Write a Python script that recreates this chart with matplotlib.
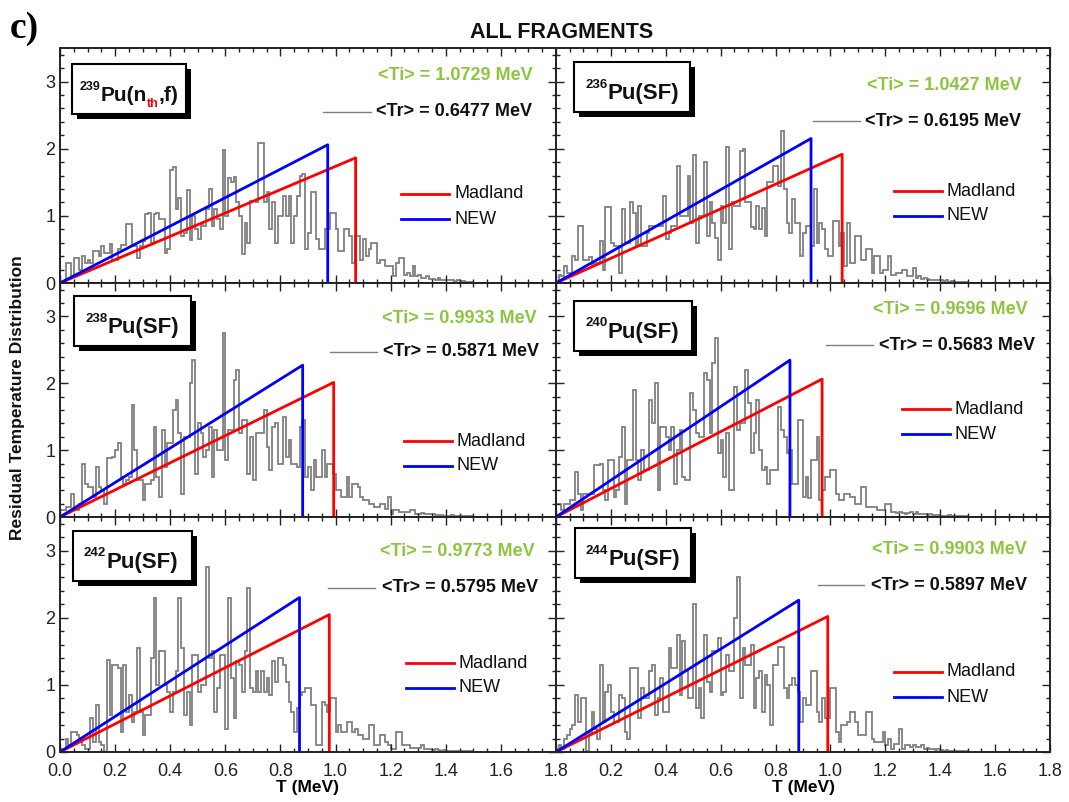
import numpy as np
import matplotlib.pyplot as plt
from matplotlib.patches import Rectangle
from matplotlib.lines import Line2D
from matplotlib.text import Annotation
from matplotlib.ticker import MultipleLocator

plt.rcParams['font.family'] = ['Liberation Sans', 'DejaVu Sans']

W, H = 1069, 802
BIN = 0.01  # histogram bin width in MeV

# residual temperature histograms, 0.01 MeV bins starting at T = 0
pu239_nth = [0, 0, .30, .30, .10, .37, .37, .20, .40, .30,
             .35, .30, .48, .48, .40, .55, .45, .45, .58, .35,
             .35, .50, .57, .57, .88, .88, .55, .55, .37, .55,
             .62, 1.03, 1.05, .60, 1.03, 1.05, .95, .95, .45, .50,
             1.69, 1.73, 1.10, 1.26, .70, .75, 1.38, .64, 1.00, .80,
             .65, .90, .85, 1.10, 1.40, .85, 1.10, .95, .80, 1.98,
             1.00, 1.56, 1.50, 1.58, 1.20, 1.00, .43, .90, .60, 1.22,
             1.22, 1.20, 2.09, 2.09, 1.20, 1.35, .80, 1.20, .60, 1.00,
             1.00, 1.30, 1.00, 1.30, .60, 1.00, 1.30, 1.60, 1.62, .50,
             .75, 1.35, 1.35, .65, .50, .50, .80, .80, 1.05, 1.05,
             .80, .48, .48, .80, .80, .70, .30, .70, .70, .35,
             .65, .40, .50, .60, .60, .30, .35, .35, .25, .25,
             .25, .10, .30, .37, .37, .12, .15, .10, .25, .10,
             .12, .08, .08, .10, .06, .06, .05, .08, .05, .04,
             .05, .04, .04, .03, .05, .03, .03, .02, .02, .02]

pu236_sf = [0, .12, .10, .25, .15, .15, .40, .35, .85, .85,
            .35, .35, .38, .25, .30, .30, .63, .20, 1.13, 1.13,
            .60, .55, .55, .15, 1.10, .60, .60, 1.20, 1.05, .55,
            1.15, .55, .55, .75, .85, .85, .85, .85, .85, 1.30,
            .65, .75, .85, .85, 1.75, 1.00, 1.00, 1.00, 1.60, .90,
            1.90, .60, 1.00, 1.00, 1.80, .70, 1.20, .90, .67, .35,
            1.15, .90, 2.03, .50, 1.20, 1.15, 1.15, 1.96, 2.00, 1.20,
            1.20, .84, .80, 1.15, .80, 1.12, .70, 1.50, 1.50, 1.75,
            1.75, 1.45, 2.26, 1.40, .90, .75, 1.25, .90, .90, .40,
            .75, .85, .85, .55, 1.40, .60, .90, .80, .50, .40,
            .40, .93, .93, .55, .75, .25, .90, .30, .30, .70,
            .70, .35, .35, .50, .50, .15, .40, .40, .15, .20,
            .20, .40, .12, .12, .15, .15, .20, .20, .10, .10,
            .22, .08, .10, .06, .08, .06, .05, .05, .04, .05,
            .04, .03, .04, .02, .03, .02, .02, .02, .01, .01]

pu238_sf = [.10, .10, .15, .15, .35, .15, .10, .20, .80, .50,
            .45, .45, .30, .75, .45, .40, .20, .88, .88, .90,
            1.00, 1.10, .60, .50, .55, .60, 1.67, 1.00, .55, .55,
            .25, .50, .50, .55, 1.35, .60, .30, 1.30, .75, 1.10,
            1.10, 1.60, 1.75, 1.25, .35, 1.20, 1.20, 2.00, 2.35, .65,
            1.40, 1.25, .90, 1.00, 1.35, .60, 1.30, 1.00, 1.00, 2.75,
            .85, 1.30, 1.30, 2.05, 2.20, 1.25, 1.45, 1.45, .65, 1.20,
            .55, 1.25, 1.25, 1.25, 1.60, 1.05, .70, 1.35, 1.40, .80,
            .80, 1.50, .90, 1.15, .80, .80, .75, 1.35, 1.45, .60,
            .75, .40, .85, .60, .60, 1.00, .60, .80, .80, .65,
            .40, .40, .30, .30, .60, .30, .50, .50, .45, .30,
            .25, .25, .20, .20, .15, .15, .20, .20, .12, .30,
            .05, .10, .10, .08, .08, .08, .08, .10, .10, .05,
            .05, .06, .04, .05, .04, .04, .03, .03, .03, .02,
            .02, .02, .03, .02, .02, .01, .02, .01, .01, .01]

pu240_sf = [.20, .20, .10, .20, .20, .25, .25, .68, .35, .10,
            .35, .35, .35, .35, .78, .78, .80, .40, .25, .85,
            .85, .30, .40, .90, 1.35, .20, .85, .85, 1.90, .85,
            .55, 1.00, .70, .70, 1.75, 1.40, 2.00, .40, 1.35, 1.35,
            1.20, 1.00, 1.35, .50, 1.00, 1.30, .60, .55, .55, 1.85,
            1.60, 1.25, 1.20, 1.20, 2.15, 2.05, 1.25, 2.30, 2.67, .95,
            1.15, .60, 1.25, .40, .40, 1.95, 1.30, 1.40, 1.40, 2.20,
            1.70, .95, 1.25, 1.75, 1.00, .70, .75, .50, .70, .70,
            .70, 1.65, 1.30, 1.20, .95, 1.00, .50, .50, 1.45, 1.45,
            .30, .60, .28, .85, .85, 1.20, .25, .40, .60, .60,
            .70, .70, .35, .25, .25, .35, .35, .30, .30, .20,
            .20, .45, .45, .15, .15, .15, .15, .10, .10, .10,
            .20, .20, .08, .08, .06, .08, .06, .05, .06, .08,
            .05, .08, .05, .04, .05, .03, .04, .03, .02, .03,
            .02, .02, .02, .03, .01, .02, .01, .01, .01, .01]

pu242_sf = [.05, .05, .20, .10, .30, .30, .25, .20, .10, .05,
            .05, .50, .15, .70, .15, .10, .00, 1.37, .55, 1.30,
            1.30, 1.25, .30, 1.30, .60, .85, .45, .60, 1.55, .60,
            .25, .55, .55, 1.40, 2.30, 1.00, 1.50, 1.50, 1.00, .90,
            .60, .90, 1.20, 2.30, 1.55, .55, .90, .40, 1.45, 1.45,
            .90, 1.00, 1.00, 2.75, 1.40, 1.50, .60, .95, 1.45, 1.45,
            .35, 2.30, 1.10, .50, 1.35, 1.30, .90, 1.50, 2.45, .95,
            .90, 1.20, .90, 1.20, .90, 1.10, .85, 1.35, 1.05, 1.40,
            1.40, 1.30, 1.05, .75, .60, .30, .65, .85, .90, .95,
            .95, .70, .70, .10, .10, .75, .70, .60, .80, .80,
            .30, .40, .30, .30, .45, .45, .30, .35, .25, .25,
            .20, .20, .40, .40, .10, .10, .25, .25, .15, .10,
            .05, .05, .30, .30, .10, .10, .10, .06, .06, .06,
            .06, .10, .05, .04, .05, .03, .04, .03, .02, .03,
            .02, .02, .02, .01, .02, .01, .01, .01, .01, .01]

pu244_sf = [.05, .10, .05, .20, .25, .35, .40, .85, .45, .80,
            .80, .02, .30, .60, .35, .20, 1.30, .45, .90, 1.00,
            .60, .45, .45, .85, .80, .30, .20, 1.25, 1.25, 1.25,
            .50, .95, .80, .80, 1.20, 1.30, .55, .80, 1.10, .60,
            .60, 1.55, 1.25, 1.25, 1.75, .85, 1.65, 1.20, .80, .80,
            2.20, .65, .95, .50, 1.75, 1.05, .90, 1.50, 1.50, 1.70,
            .85, .90, 1.45, 1.20, 1.20, 2.00, 2.60, .80, 1.55, 1.30,
            1.30, 1.60, .65, 1.10, 1.20, .60, 1.15, 1.00, .40, 1.30,
            1.30, 1.57, 1.57, .95, .80, 1.00, 1.10, 1.00, .90, .45,
            .80, .70, .70, 1.20, 1.20, .60, .45, .80, .50, .50,
            .95, .95, .30, .15, .40, .40, .45, .60, .60, .45,
            .25, .25, .25, .60, .60, .20, .15, .15, .15, .30,
            .10, .20, .05, .12, .12, .35, .05, .10, .10, .08,
            .10, .08, .08, .10, .05, .06, .04, .05, .03, .04,
            .03, .02, .03, .02, .01, .02, .01, .01, .01, .01]

masses = ['239', '236', '238', '240', '242', '244']
reactions = ['nth', 'SF', 'SF', 'SF', 'SF', 'SF']
ti_mean = [1.0729, 1.0427, 0.9933, 0.9696, 0.9773, 0.9903]   # <Ti>, MeV
tr_mean = [0.6477, 0.6195, 0.5871, 0.5683, 0.5795, 0.5897]   # <Tr>, MeV
hists = [pu239_nth, pu236_sf, pu238_sf, pu240_sf, pu242_sf, pu244_sf]

GREEN = '#8cc63f'
GRAY = '#808080'

fig = plt.figure(figsize=(W / 100, H / 100), dpi=100)


def P(x, y):
    # pixel position from the top-left corner -> figure fraction
    return x / W, 1 - y / H


def piece(text, after, base, size, color='#111111'):
    # text that continues right after another text, on a given baseline
    ann = Annotation(text, xy=(1, H - base), xycoords=(after, 'figure pixels'),
                     fontsize=size, fontweight='bold', color=color,
                     va='baseline', ha='left', zorder=7, annotation_clip=False)
    fig.add_artist(ann)
    return ann


# axes grid in pixels
cols = [(60, 496), (556, 494)]
rows = [(48, 235), (283, 234), (517, 235)]

# per-panel layout: label box (left, top, width), <Ti>/<Tr> text, key line, legend
boxes = [(72, 64, 114), (574, 62, 116), (74, 296, 117),
         (574, 301, 118), (73, 531, 119), (575, 528, 116)]
ti_pos = [(378, 76), (867, 85), (382, 318), (873, 309), (380, 552), (872, 550)]
tr_pos = [(376, 112), (865, 121), (383, 352), (879, 345), (382, 588), (871, 585)]
key_line = [(323, 371), (813, 860), (330, 377), (826, 873), (328, 375), (818, 864)]
legend = [(401, 194, 219), (894, 191, 216), (404, 441, 466),
          (902, 409, 434), (406, 663, 688), (894, 672, 697)]

for k in range(6):
    r, c = divmod(k, 2)
    x0, w = cols[c]
    top, h = rows[r]
    ax = fig.add_axes([x0 / W, 1 - (top + h) / H, w / W, h / H])

    vals = np.array(hists[k])
    edges = np.arange(len(vals) + 1) * BIN
    ax.stairs(vals, edges, color=GRAY, lw=1.3, baseline=0)

    # triangular spectra: P(T) = 2T/Tm^2 on [0, Tm]
    tm_mad = ti_mean[k]
    tm_new = 1.5 * tr_mean[k]
    ax.plot([0, tm_mad, tm_mad], [0, 2 / tm_mad, 0], color='#ff0000', lw=2)
    ax.plot([0, tm_new, tm_new], [0, 2 / tm_new, 0], color='#0000ff', lw=2)

    ax.set_xlim(0, 1.8)
    ax.set_ylim(0, 3.5)
    ax.xaxis.set_major_locator(MultipleLocator(0.2))
    ax.xaxis.set_minor_locator(MultipleLocator(0.05))
    ax.yaxis.set_major_locator(MultipleLocator(1))
    ax.yaxis.set_minor_locator(MultipleLocator(0.2))
    ax.tick_params(which='both', direction='in', top=True, right=True,
                   labelsize=13, width=1.0, colors='#222222')
    ax.tick_params(which='major', length=6)
    ax.tick_params(which='minor', length=3)
    ax.tick_params(axis='x', pad=8)
    for s in ax.spines.values():
        s.set_linewidth(1.4)
        s.set_color('#222222')

    if r < 2:
        ax.set_xticklabels([])
    else:
        ticks = np.round(np.arange(0, 1.81, 0.2), 1)
        ax.set_xticks(ticks)
        labels = ['%.1f' % t for t in ticks]
        if c == 1:
            labels[0] = ''
        ax.set_xticklabels(labels)
        ax.set_xlabel('T (MeV)', fontsize=12.5, fontweight='bold', labelpad=0)
    if c == 1:
        ax.set_yticklabels([])
    else:
        ax.set_yticks([0, 1, 2, 3])
        ax.set_yticklabels(['0', '1', '2', '3'])

    # nuclide label box with drop shadow
    bx, by, bw = boxes[k]
    bh = 50
    fig.add_artist(Rectangle(P(bx + 5, by + bh + 5), bw / W, bh / H,
                             transform=fig.transFigure, facecolor='black',
                             edgecolor='none', zorder=5))
    fig.add_artist(Rectangle(P(bx, by + bh), bw / W, bh / H,
                             transform=fig.transFigure, facecolor='white',
                             edgecolor='black', lw=1.5, zorder=6))
    base = by + 37
    if reactions[k] == 'nth':
        sup = fig.text(*P(bx + 8, base - 11), masses[k], fontsize=9,
                       fontweight='bold', va='baseline', zorder=7, color='#111111')
        t1 = piece('Pu(n', sup, base, 15)
        t2 = piece('th', t1, base + 6, 9, color='#ff0000')
        piece(',f)', t2, base, 15)
    else:
        sup = fig.text(*P(bx + 11, base - 11.5), masses[k], fontsize=9.5,
                       fontweight='bold', va='baseline', zorder=7, color='#111111')
        piece('Pu(SF)', sup, base, 16)

    # mean temperatures
    fig.text(*P(*ti_pos[k]), '<Ti> = %.4f MeV' % ti_mean[k], color=GREEN,
             fontsize=13, fontweight='bold', va='center', ha='left')
    fig.text(*P(*tr_pos[k]), '<Tr> = %.4f MeV' % tr_mean[k], color='#111111',
             fontsize=13, fontweight='bold', va='center', ha='left')
    lx0, lx1 = key_line[k]
    ly = tr_pos[k][1]
    fig.add_artist(Line2D([lx0 / W, lx1 / W], [1 - ly / H] * 2,
                          transform=fig.transFigure, color=GRAY, lw=1.0))

    # legend
    gx, gy1, gy2 = legend[k]
    for yy, col, name in [(gy1, '#ff0000', 'Madland'), (gy2, '#0000ff', 'NEW')]:
        fig.add_artist(Line2D([gx / W, (gx + 48) / W], [1 - yy / H] * 2,
                              transform=fig.transFigure, color=col, lw=2))
        fig.text(*P(gx + 53, yy), name, fontsize=13, va='center', ha='left',
                 color='#111111')

fig.text(*P(562, 32), 'ALL FRAGMENTS', fontsize=15.5, fontweight='bold',
         ha='center', va='center', color='#111111')
fig.text(*P(10, 28), 'c)', fontsize=27, fontweight='bold',
         family='Liberation Serif', ha='left', va='center')
fig.text(*P(18, 398), 'Residual Temperature Distribution', fontsize=12.5,
         fontweight='bold', rotation=90, ha='center', va='center',
         color='#111111')

fig.savefig('out.png', dpi=100)
